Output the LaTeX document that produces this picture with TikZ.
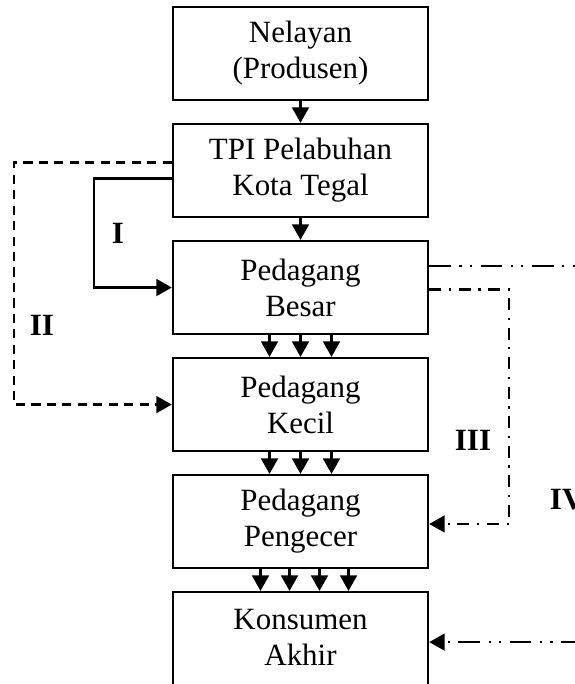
\documentclass[tikz,border=0pt]{standalone}
\usepackage{fontspec}
\setmainfont{Liberation Serif}
\usetikzlibrary{positioning,arrows.meta}

\tikzset{
  box/.style={draw, line width=1.7pt, minimum width=6.375cm, minimum height=2.325cm,
    inner sep=0pt, align=center, font=\fontsize{22}{25.6}\selectfont},
  boxteks/.style={align=center, inner sep=0pt, font=\fontsize{22}{25.6}\selectfont},
  flow/.style={-{Triangle[length=11pt,width=12pt]}, line width=1.6pt},
  lblrute/.style={font=\fontsize{22}{25.6}\selectfont\bfseries},
  rute2/.style={flow, dash pattern=on 6.5pt off 4.5pt},
  rute3/.style={flow, dash pattern=on 8.5pt off 5.5pt on 1.5pt off 5.5pt},
  rute4/.style={flow, dash pattern=on 15.5pt off 6pt on 1.5pt off 6pt on 1.5pt off 6pt}
}

\begin{document}
\begin{tikzpicture}[x=0.025cm, y=-0.025cm, node distance=0.54cm]
    \useasboundingbox (0,0) rectangle (574,684);

    % saluran utama
    \node[box] (nelayan) at (300.5,53.5) {Nelayan\\(Produsen)};
    \node[box, below=of nelayan] (tpi) {TPI Pelabuhan\\Kota Tegal};
    \node[box, below=of tpi] (besar) {Pedagang\\Besar};
    \node[box, below=of besar] (kecil) {Pedagang\\Kecil};
    \node[box, below=of kecil] (pengecer) {Pedagang\\Pengecer};
    \node[box, below=of pengecer, minimum height=2.5cm] (konsumen) {};
    \node[boxteks] (konsumenteks) at ([yshift=-1.16cm]konsumen.north) {Konsumen\\Akhir};

    \draw[flow] (nelayan) -- (tpi);
    \draw[flow] (tpi) -- (besar);
    \foreach \dx in {-31,0,31} {
      \draw[flow] ([xshift=\dx*0.025cm]besar.south) -- ([xshift=\dx*0.025cm]kecil.north);
      \draw[flow] ([xshift=\dx*0.025cm]kecil.south) -- ([xshift=\dx*0.025cm]pengecer.north);
    }
    \foreach \dx in {-40,-11,19,48}
      \draw[flow] ([xshift=\dx*0.025cm]pengecer.south) -- ([xshift=\dx*0.025cm]konsumen.north);

    % saluran I dan II
    \draw[flow] ([yshift=-0.2cm]tpi.west) -- ++(-78,0) |- (besar.west);
    \node[lblrute] (lblI) at (118,233) {I};
    \draw[rute2] ([yshift=0.2cm]tpi.west) -- ++(-158,0) |- (kecil.west);
    \node[lblrute] (lblII) at (42,325) {II};

    % saluran III dan IV
    \draw[rute3] ([yshift=-0.05cm]besar.east) -- ++(80,0) |- ([yshift=-0.06cm]pengecer.east);
    \node[lblrute] (lblIII) at (473,440) {III};
    \draw[rute4] ([yshift=0.54cm]besar.east) -- ++(171,0) |- (konsumen.east);
    \node[lblrute, anchor=west] (lblIV) at (545,500) {IV};
\end{tikzpicture}
\end{document}
